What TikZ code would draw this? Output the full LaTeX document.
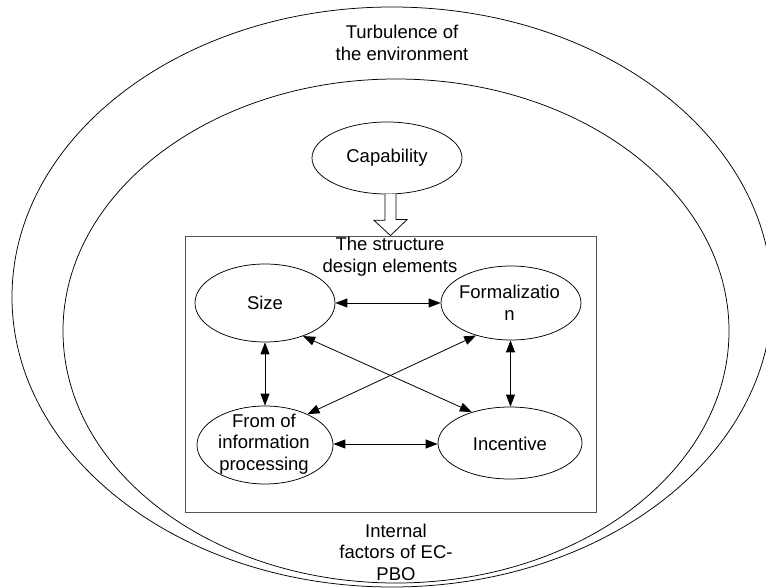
\documentclass[tikz,border=0pt]{standalone}
\usepackage{fontspec}
\setmainfont{Liberation Sans}
\usetikzlibrary{shapes.geometric,arrows.meta,calc}
\definecolor{boxgray}{RGB}{85,85,85}
\begin{document}
\begin{tikzpicture}[x=1pt,y=-1pt,
  ell/.style={draw, ellipse, inner sep=0pt, line width=0.75pt},
  lbl/.style={font=\fontsize{18.5}{21.5}\selectfont, align=center, inner sep=0pt},
  biarrow/.style={{Triangle[length=12pt,width=9pt]}-{Triangle[length=12pt,width=9pt]}, line width=0.8pt},
  hollow/.style={draw, fill=white, line width=0.75pt, line join=miter}]
\useasboundingbox (0,0) rectangle (766,588);
% environment ellipses
\node[ell, minimum width=760pt, minimum height=580pt] (outer) at (392,297) {};
\node[ell, minimum width=666pt, minimum height=504pt] (inner) at (396,331) {};
\node[lbl] (turb) at (402,43) {Turbulence of\\the environment};
\node[lbl] (internal) at (396,552) {Internal\\factors of EC-\\PBO};
% capability
\node[ell, minimum width=150pt, minimum height=72pt] (cap) at (387,158) {};
\node[lbl] (captext) at (cap.center) {Capability};
% structure box
\node[draw=boxgray, line width=0.8pt, minimum width=411pt, minimum height=276pt, inner sep=0pt] (box) at (390.5,374) {};
\node[lbl] (boxtitle) at (390,256.5) {The structure\\design elements};
% hollow arrow from capability to box
\draw[hollow] (cap.south -| box.north) ++(-5.5,0) -- ++(0,26) -- ++(-11,0) -- (box.north) -- ++(16.5,-16) -- ++(-11,0) -- ++(0,-26);
% element ellipses
\node[ell, minimum width=140pt, minimum height=78pt] (size) at (265,303) {};
\node[lbl] (sizetext) at (size.center) {Size};
\node[ell, minimum width=140pt, minimum height=74pt] (form) at (511,303) {};
\node[lbl] (formtext) at (509.5,303) {Formalizatio\\n};
\node[ell, minimum width=136pt, minimum height=78pt] (fromof) at (265,445) {};
\node[lbl] (fromoftext) at (264,444) {From of\\information\\processing};
\node[ell, minimum width=144pt, minimum height=72pt] (incent) at (510,443) {};
\node[lbl] (incenttext) at (510,444) {Incentive};
% connectors
\draw[biarrow] (size.east) -- (size.east -| form.west);
\draw[biarrow] ($(fromof.east)+(0,-1)$) -- ($(fromof.east -| incent.west)+(0,-1)$);
\draw[biarrow] (size.south) -- (size.south |- fromof.north);
\draw[biarrow] ($(form.south)+(-0.5,0)$) -- ($(form.south |- incent.north)+(-0.5,0)$);
\draw[biarrow] (size.-41) -- (incent.141.5);
\draw[biarrow] (form.-137) -- (fromof.36.7);
\end{tikzpicture}
\end{document}
